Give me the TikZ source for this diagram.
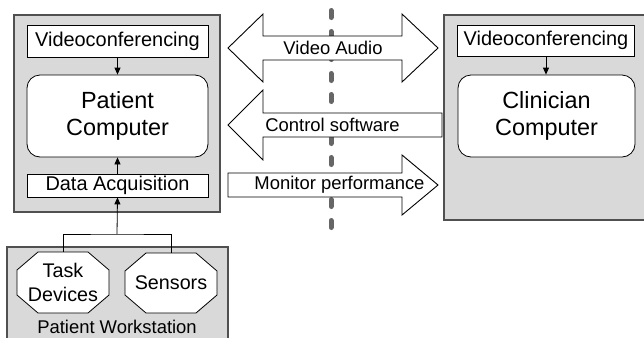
\documentclass[tikz,border=0pt]{standalone}
\usepackage{fontspec}
\setmainfont{Liberation Sans}
\usetikzlibrary{arrows.meta}
\definecolor{panelgray}{HTML}{D9D9D9}
\definecolor{panelborder}{HTML}{505050}
\definecolor{dashgray}{HTML}{666666}
\begin{document}
\begin{tikzpicture}[x=1bp,y=-1bp,
  panel/.style={draw=panelborder,fill=panelgray,line width=1.2bp},
  wbox/.style={draw=black,fill=white,line width=0.8bp,inner sep=0pt,font=\fontsize{20}{22}\selectfont},
  comp/.style={draw=black,fill=white,rounded corners=13bp,line width=0.8bp,inner sep=0pt,align=center,font=\fontsize{23.5}{26.5}\selectfont},
  link/.style={-{Triangle[length=7bp,width=6bp]},line width=0.8bp},
  plainlink/.style={line width=0.8bp},
  bigarrow/.style={draw=black,fill=white,line width=0.9bp},
  alabel/.style={font=\fontsize{18.5}{22}\selectfont,inner sep=0pt},
  octo/.style={draw=black,fill=white,line width=0.8bp},
  octotext/.style={align=center,inner sep=0pt,minimum width=92bp,minimum height=61bp,font=\fontsize{19.8}{24}\selectfont},
  divider/.style={draw=dashgray,line width=5bp,line cap=round,dash pattern=on 7bp off 14bp}
]
\useasboundingbox (0,0) rectangle (644,337);

% panels
\draw[panel] (14,15) rectangle (220,212);
\draw[panel] (444,15) rectangle (648,220);
\draw[panel] (7,247) rectangle (228,345);

% divider line
\coordinate (dtop) at (331,10.5);
\coordinate (dbot) at (331,232);
\draw[divider] (dtop) -- (dbot);

% patient side
\node[wbox,minimum width=181bp,minimum height=32bp] (vc1) at (117.5,41) {Videoconferencing};
\node[comp,minimum width=181bp,minimum height=82bp] (pc) at (117.5,116) {Patient\\Computer};
\node[wbox,minimum width=181bp,minimum height=23bp] (da) at (117.5,185.5) {Data Acquisition};

% clinician side
\node[wbox,minimum width=177bp,minimum height=31bp] (vc2) at (546,40.5) {Videoconferencing};
\node[comp,minimum width=177bp,minimum height=82bp] (cc) at (546.5,116) {Clinician\\Computer};

% workstation
\coordinate (tdc) at (63,282.5);
\coordinate (snc) at (171,283);
\draw[octo] (tdc) ++(-25,-30.5) -- ++(50,0) -- ++(21,18) -- ++(0,25) -- ++(-21,18) -- ++(-50,0) -- ++(-21,-18) -- ++(0,-25) -- cycle;
\draw[octo] (snc) ++(-25,-30) -- ++(50,0) -- ++(21,18) -- ++(0,24) -- ++(-21,18) -- ++(-50,0) -- ++(-21,-18) -- ++(0,-24) -- cycle;
\node[octotext] (td) at (tdc) {Task\\Devices};
\node[octotext,minimum height=60bp] (sn) at (snc) {Sensors};
\node[inner sep=0pt,anchor=base,font=\fontsize{18.5}{22}\selectfont] (pw) at (117,333) {Patient Workstation};

% small connectors
\coordinate (j) at (117,234);
\draw[link] (vc1.south) -- (pc.north);
\draw[link] (da.north) -- (pc.south);
\draw[link] (vc2.south) -- (vc2.south |- cc.north);
\draw[plainlink] (td.north) |- (j) -| (sn.north);
\draw[link] (j) -- (da.south);

% big arrows
\draw[bigarrow] (228,48) -- (263,14) -- (263,36) -- (402,36) -- (402,14) -- (438,48) -- (402,82) -- (402,60) -- (263,60) -- (263,82) -- cycle;
\draw[bigarrow] (228,125) -- (263,90) -- (263,113) -- (442,113) -- (442,137) -- (263,137) -- (263,160) -- cycle;
\draw[bigarrow] (228,173) -- (402,173) -- (402,155) -- (438,185) -- (402,215) -- (402,197) -- (228,197) -- cycle;
\node[alabel] (va) at (333,48) {Video Audio};
\node[alabel] (cs) at (332.5,125) {Control software};
\node[alabel] (mp) at (339.5,185) {Monitor performance};
\end{tikzpicture}
\end{document}
